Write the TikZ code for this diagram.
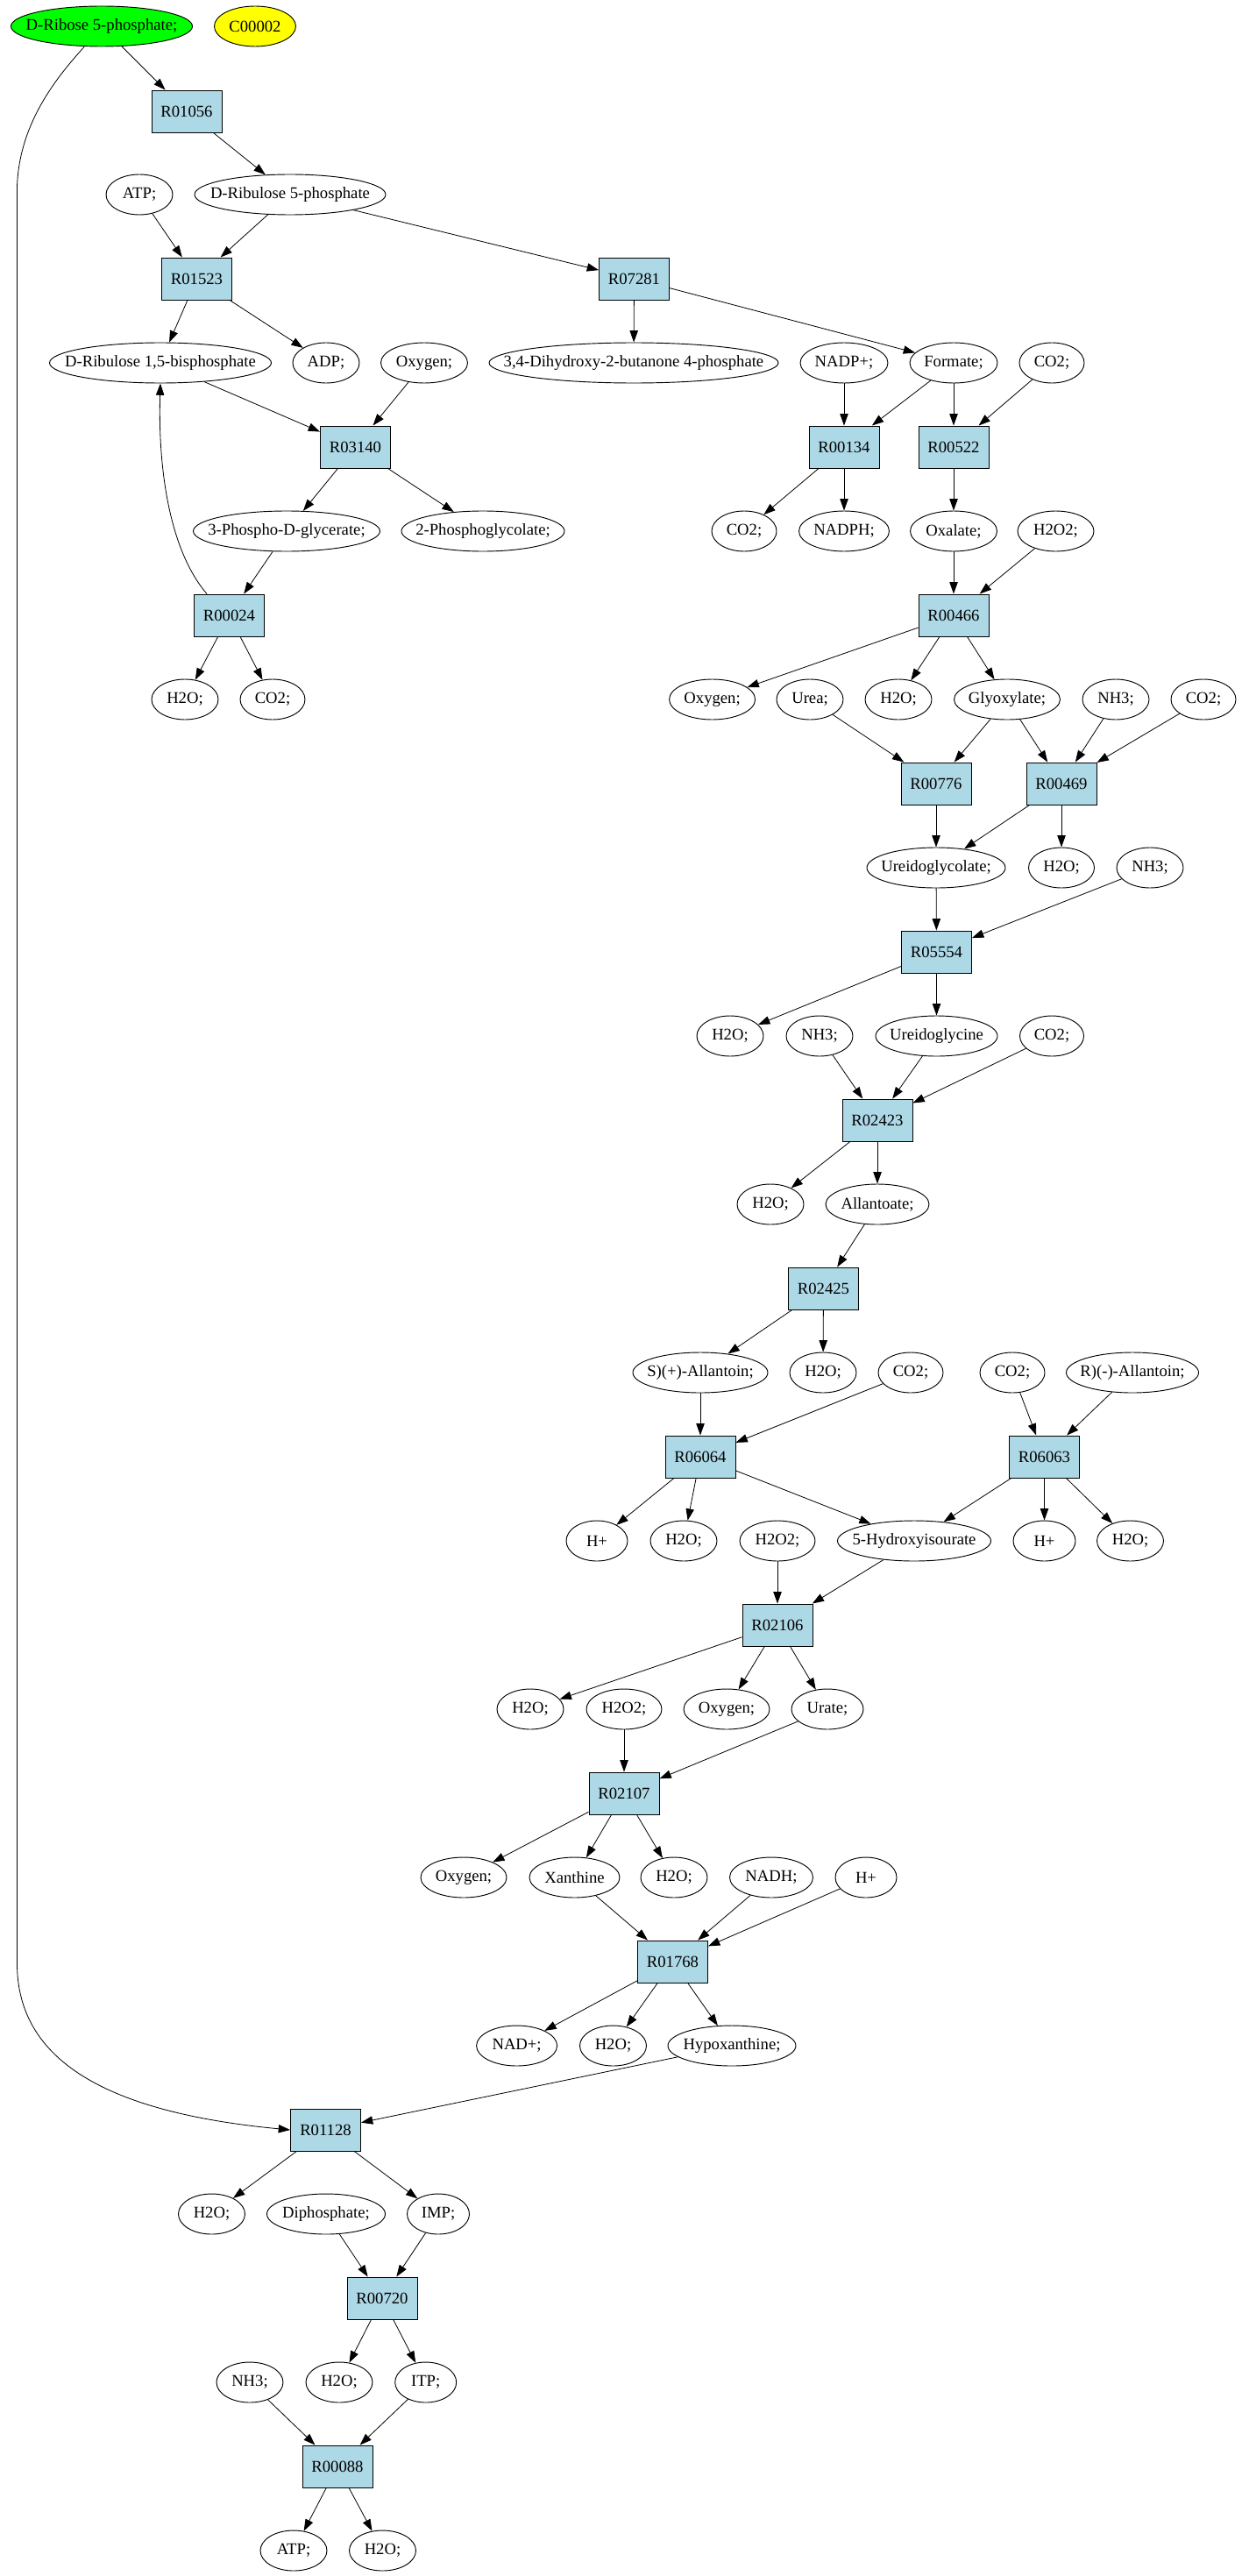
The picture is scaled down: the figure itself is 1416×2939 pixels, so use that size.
\documentclass[tikz,border=0pt]{standalone}
\usepackage{fontspec}
\setmainfont{Liberation Serif}
\usetikzlibrary{shapes.geometric,arrows.meta,calc}
\definecolor{rxnblue}{HTML}{ADD8E6}
\definecolor{srcgreen}{HTML}{00FF00}
\definecolor{srcyellow}{HTML}{FFFF00}
\newcommand\metab[6][]{\node[met,minimum width=#5*0.75pt,#1] (#2) at (#3,#4) {\makebox[0pt]{#6}};}
\newcommand\reac[4]{\node[rxn] (#1) at (#2,#3) {#4};}
\begin{document}
\begin{tikzpicture}[x=0.75pt,y=-0.75pt,
  met/.style={ellipse,draw,line width=0.7pt,inner sep=0pt,minimum height=34.5pt,font=\fontsize{14}{16}\selectfont},
  rxn/.style={rectangle,draw,line width=0.7pt,fill=rxnblue,inner sep=0pt,minimum width=60pt,minimum height=36pt,font=\fontsize{14}{16}\selectfont},
  arr/.style={-{Triangle[length=10pt,width=7pt]},line width=0.6pt},
  srcg/.style={fill=srcgreen},
  srcy/.style={fill=srcyellow}]
\useasboundingbox (0,0) rectangle (1416,2939);
% row 30
\metab[srcg]{drib}{116}{30}{207}{D-Ribose 5-phosphate;}
\metab[srcy]{cooo}{291}{30}{93}{C00002}
% row 127
\reac{r01056}{213}{127}{R01056}
% row 222
\metab{atpa}{159}{222}{76}{ATP;}
\metab{drul}{331}{222}{218}{D-Ribulose 5-phosphate}
% row 318
\reac{r01523}{224.5}{318}{R01523}
\reac{r07281}{723.5}{318}{R07281}
% row 414
\metab{drbp}{183}{414}{253}{D-Ribulose 1,5-bisphosphate}
\metab{adp}{372}{414}{76}{ADP;}
\metab{oxya}{484}{414}{99}{Oxygen;}
\metab{dhb}{723}{414}{330}{3,4-Dihydroxy-2-butanone 4-phosphate}
\metab{nadpp}{963}{414}{100}{NADP+;}
\metab{form}{1088}{414}{100}{Formate;}
\metab{co2a}{1200}{414}{74}{CO2;}
% row 510
\reac{r03140}{405.5}{510}{R03140}
\reac{r00134}{963}{510}{R00134}
\reac{r00522}{1088}{510}{R00522}
% row 606
\metab{pga}{327}{606}{213}{3-Phospho-D-glycerate;}
\metab{pgl}{551}{606}{186}{2-Phosphoglycolate;}
\metab{co2b}{849}{606}{74}{CO2;}
\metab{nadph}{963}{606}{103}{NADPH;}
\metab{oxal}{1088}{606}{99}{Oxalate;}
\metab{hooa}{1204.5}{606}{87}{H2O2;}
% row 702
\reac{r00024}{261.5}{702}{R00024}
\reac{r00466}{1088}{702}{R00466}
% row 798
\metab{h2oa}{211}{798}{76}{H2O;}
\metab{co2c}{311}{798}{74}{CO2;}
\metab{oxyb}{812.6}{798}{98}{Oxygen;}
\metab{urea}{924}{798}{76}{Urea;}
\metab{h2ob}{1025}{798}{76}{H2O;}
\metab{glyox}{1149}{798}{121}{Glyoxylate;}
\metab{nh3a}{1273}{798}{76}{NH3;}
\metab{co2d}{1373}{798}{74}{CO2;}
% row 894
\reac{r00776}{1068}{894}{R00776}
\reac{r00469}{1211}{894}{R00469}
% row 990
\metab{ugly}{1068}{990}{158}{Ureidoglycolate;}
\metab{h2oc}{1211}{990}{75}{H2O;}
\metab{nh3b}{1312}{990}{76}{NH3;}
% row 1086
\reac{r05554}{1068.5}{1086}{R05554}
% row 1182
\metab{h2od}{833}{1182}{76}{H2O;}
\metab{nh3c}{935}{1182}{76}{NH3;}
\metab{ugcn}{1068.5}{1182}{139}{Ureidoglycine}
\metab{co2e}{1200}{1182}{73}{CO2;}
% row 1278
\reac{r02423}{1001}{1278}{R02423}
% row 1374
\metab{h2oe}{879}{1374}{76}{H2O;}
\metab{allo}{1001}{1374}{118}{Allantoate;}
% row 1470
\reac{r02425}{939.5}{1470}{R02425}
% row 1566
\metab{sall}{799}{1566}{154}{S)(+)-Allantoin;}
\metab{h2of}{939}{1566}{76}{H2O;}
\metab{co2f}{1039}{1566}{74}{CO2;}
\metab{co2g}{1155}{1566}{74}{CO2;}
\metab{rall}{1292}{1566}{151}{R)(-)-Allantoin;}
% row 1662
\reac{r06064}{799}{1662}{R06064}
\reac{r06063}{1191.5}{1662}{R06063}
% row 1758
\metab{hpa}{681}{1758}{70}{H+}
\metab{h2og}{780}{1758}{76}{H2O;}
\metab{hoob}{887}{1758}{86}{H2O2;}
\metab{hiu}{1043}{1758}{175}{5-Hydroxyisourate}
\metab{hpb}{1191.5}{1758}{71}{H+}
\metab{h2oh}{1289.5}{1758}{76}{H2O;}
% row 1854
\reac{r02106}{887}{1854}{R02106}
% row 1950
\metab{h2oi}{605}{1950}{76}{H2O;}
\metab{hooc}{712}{1950}{86}{H2O2;}
\metab{oxyc}{829}{1950}{98}{Oxygen;}
\metab{urate}{944}{1950}{82}{Urate;}
% row 2046
\reac{r02107}{712}{2046}{R02107}
% row 2142
\metab{oxyd}{529}{2142}{98}{Oxygen;}
\metab{xan}{655.5}{2142}{103}{Xanthine}
\metab{h2oj}{769}{2142}{76}{H2O;}
\metab{nadh}{880}{2142}{95}{NADH;}
\metab{hpc}{988}{2142}{70}{H+}
% row 2238
\reac{r01768}{767.5}{2238}{R01768}
% row 2334
\metab{nadp}{589.6}{2334}{92}{NAD+;}
\metab{h2ok}{699.5}{2334}{76}{H2O;}
\metab{hypx}{835}{2334}{146}{Hypoxanthine;}
% row 2430
\reac{r01128}{371.5}{2430}{R01128}
% row 2526
\metab{h2ol}{241.5}{2526}{76}{H2O;}
\metab{diph}{372}{2526}{135}{Diphosphate;}
\metab{imp}{500}{2526}{71}{IMP;}
% row 2622
\reac{r00720}{436}{2622}{R00720}
% row 2718
\metab{nh3d}{285}{2718}{76}{NH3;}
\metab{h2om}{387}{2718}{76}{H2O;}
\metab{itp}{485.7}{2718}{70}{ITP;}
% row 2814
\reac{r00088}{385}{2814}{R00088}
% row 2910
\metab{atpb}{335}{2910}{76}{ATP;}
\metab{h2on}{436.5}{2910}{76}{H2O;}
% ---------------- edges
\draw[arr] (drib) -- (r01056);
\draw[arr] ($(drib.south)+(-20,0)$) .. controls (65,88) and (22,140) .. (19.5,213)
   -- (19.5,2240) .. controls (19.5,2350) and (120,2410) .. (r01128.west);
\draw[arr] (r01056) -- (drul);
\draw[arr] (atpa) -- (r01523);
\draw[arr] (drul) -- (r01523);
\draw[arr] (drul) -- (r07281);
\draw[arr] (r01523) -- (drbp);
\draw[arr] (r01523) -- (adp);
\draw[arr] (drbp) -- (r03140);
\draw[arr] (oxya) -- (r03140);
\draw[arr] (r03140) -- (pga);
\draw[arr] (r03140) -- (pgl);
\draw[arr] (pga) -- (r00024);
\draw[arr] ($(r00024.north west)+(15,0)$) .. controls (195,630) and (180,540) .. (drbp.south);
\draw[arr] (r00024) -- (h2oa);
\draw[arr] (r00024) -- (co2c);
\draw[arr] (r07281) -- (dhb);
\draw[arr] (r07281) -- (form);
\draw[arr] (nadpp) -- (r00134);
\draw[arr] (form) -- (r00134);
\draw[arr] (form) -- (r00522);
\draw[arr] (co2a) -- (r00522);
\draw[arr] (r00134) -- (co2b);
\draw[arr] (r00134) -- (nadph);
\draw[arr] (r00522) -- (oxal);
\draw[arr] (oxal) -- (r00466);
\draw[arr] (hooa) -- (r00466);
\draw[arr] (r00466) -- (oxyb);
\draw[arr] (r00466) -- (h2ob);
\draw[arr] (r00466) -- (glyox);
\draw[arr] (urea) -- (r00776);
\draw[arr] (glyox) -- (r00776);
\draw[arr] (glyox) -- (r00469);
\draw[arr] (nh3a) -- (r00469);
\draw[arr] (co2d) -- (r00469);
\draw[arr] (r00776) -- (ugly);
\draw[arr] (r00469) -- (ugly);
\draw[arr] (r00469) -- (h2oc);
\draw[arr] (ugly) -- (r05554);
\draw[arr] (nh3b) -- (r05554);
\draw[arr] (r05554) -- (h2od);
\draw[arr] (r05554) -- (ugcn);
\draw[arr] (nh3c) -- (r02423);
\draw[arr] (ugcn) -- (r02423);
\draw[arr] (co2e) -- (r02423);
\draw[arr] (r02423) -- (h2oe);
\draw[arr] (r02423) -- (allo);
\draw[arr] (allo) -- (r02425);
\draw[arr] (r02425) -- (sall);
\draw[arr] (r02425) -- (h2of);
\draw[arr] (sall) -- (r06064);
\draw[arr] (co2f) -- (r06064);
\draw[arr] (co2g) -- (r06063);
\draw[arr] (rall) -- (r06063);
\draw[arr] (r06064) -- (hpa);
\draw[arr] (r06064) -- (h2og);
\draw[arr] (r06064) -- (hiu);
\draw[arr] (r06063) -- (hiu);
\draw[arr] (r06063) -- (hpb);
\draw[arr] (r06063) -- (h2oh);
\draw[arr] (hoob) -- (r02106);
\draw[arr] (hiu) -- (r02106);
\draw[arr] (r02106) -- (h2oi);
\draw[arr] (r02106) -- (oxyc);
\draw[arr] (r02106) -- (urate);
\draw[arr] (hooc) -- (r02107);
\draw[arr] (urate) -- (r02107);
\draw[arr] (r02107) -- (oxyd);
\draw[arr] (r02107) -- (xan);
\draw[arr] (r02107) -- (h2oj);
\draw[arr] (xan) -- (r01768);
\draw[arr] (nadh) -- (r01768);
\draw[arr] (hpc) -- (r01768);
\draw[arr] (r01768) -- (nadp);
\draw[arr] (r01768) -- (h2ok);
\draw[arr] (r01768) -- (hypx);
\draw[arr] (hypx) -- (r01128);
\draw[arr] (r01128) -- (h2ol);
\draw[arr] (r01128) -- (imp);
\draw[arr] (diph) -- (r00720);
\draw[arr] (imp) -- (r00720);
\draw[arr] (r00720) -- (h2om);
\draw[arr] (r00720) -- (itp);
\draw[arr] (nh3d) -- (r00088);
\draw[arr] (itp) -- (r00088);
\draw[arr] (r00088) -- (atpb);
\draw[arr] (r00088) -- (h2on);
\end{tikzpicture}
\end{document}
